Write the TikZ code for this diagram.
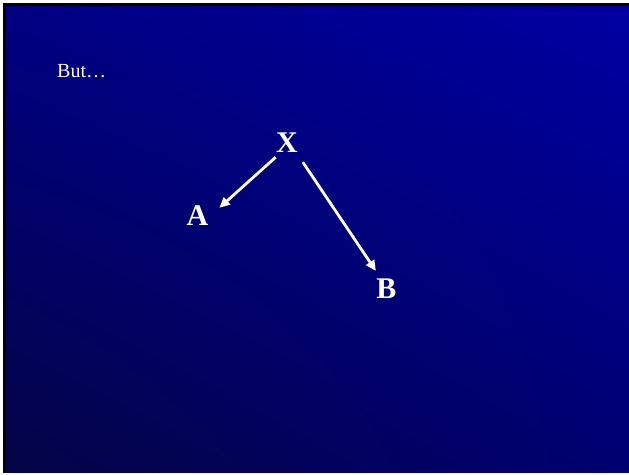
\documentclass[tikz,border=0pt]{standalone}
\usepackage{fontspec}
\setmainfont{Liberation Serif}
\usetikzlibrary{arrows.meta,calc,shadings}
\definecolor{bgLL}{RGB}{4,4,70}
\definecolor{bgUR}{RGB}{0,0,162}
\definecolor{bgUL}{RGB}{0,0,130}
\definecolor{bgLR}{RGB}{0,0,112}
\tikzset{
  letter/.style={text=white, font=\bfseries\fontsize{30}{32}\selectfont, inner sep=0pt},
  plain/.style={text=white, font=\fontsize{20}{22}\selectfont, inner sep=0pt, anchor=base west},
  arr/.style={draw=white, line width=2.8pt, -{Triangle[length=10.5pt,width=9.5pt]}}
}
\begin{document}
\begin{tikzpicture}[x=1pt,y=-1pt]
\useasboundingbox (0,0) rectangle (629,474);
\fill[white] (0,0) rectangle (629,474);
\fill[black] (3,3) rectangle (629,473);
\shade[upper left=bgUL, upper right=bgUR, lower left=bgLL, lower right=bgLR] (6,6) rectangle (629,472);
\node[plain] (but) at (57,77) {But…};
\node[letter, anchor=base] (X) at (287,152) {X};
\node[letter, anchor=base] (A) at (197.5,225) {A};
\node[letter, anchor=base] (B) at (386.5,298) {B};
\draw[arr] ($(X.south west)+(-0.3,5)$) -- ($(A.north east)+(10.8,2.8)$);
\draw[arr] ($(X.south east)+(4.8,10)$) -- ($(B.north west)+(-0.4,-7.2)$);
\end{tikzpicture}
\end{document}
